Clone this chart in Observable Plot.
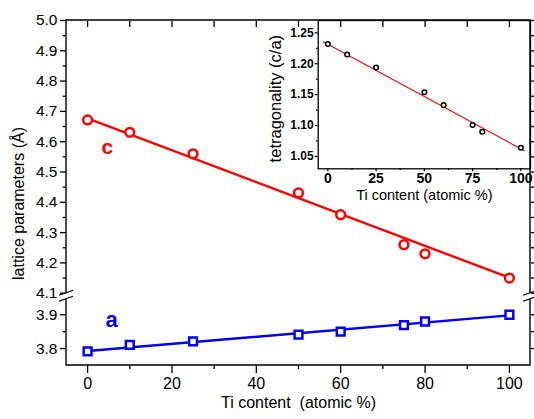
<!DOCTYPE html>
<html><head><meta charset="utf-8">
<script src="https://cdn.jsdelivr.net/npm/d3@7"></script>
<script src="https://cdn.jsdelivr.net/npm/@observablehq/plot@0.6"></script>
<style>
body{margin:0;background:white}
#wrap{position:relative;width:534px;height:419px;overflow:hidden;background:white}
#wrap svg{position:absolute;top:0}
</style></head><body><div id="wrap"></div>
<script>
// ---- data ----
const ti = [0, 10, 25, 50, 60, 75, 80, 100];
const cVals = [4.672, 4.631, 4.560, 4.431, 4.359, 4.260, 4.230, 4.150];
const aVals = [3.792, 3.811, 3.821, 3.841, 3.850, 3.869, 3.880, 3.900];
const ratioVals = [1.232, 1.215, 1.194, 1.154, 1.133, 1.101, 1.090, 1.064];
const fitX = [0, 100];
const cFit = [4.677, 4.151];
const aFit = [3.793, 3.898];
const ratioFitX = [-2.4, 101.8];
const ratioFit = [1.2355, 1.0592];
const yTickLabels = [3.8, 3.9, 4.1, 4.2, 4.3, 4.4, 4.5, 4.6, 4.7, 4.8, 4.9, 5.0];
const yMinorTicks = [3.85, 4.15, 4.25, 4.35, 4.45, 4.55, 4.65, 4.75, 4.85, 4.95];
const xTickLabels = [0, 20, 40, 60, 80, 100];
const xMinorTicks = [10, 30, 50, 70, 90];
const xTopTicks = [0, 10, 20, 30, 40, 50, 60, 70, 80, 90, 100];
const insetYTicks = [1.05, 1.10, 1.15, 1.20, 1.25];
const insetYMinor = [1.075, 1.125, 1.175, 1.225];
const insetXTicks = [0, 25, 50, 75, 100];
const insetXMinor = [12.5, 37.5, 62.5, 87.5];

const cPts = ti.map((t, i) => ({t, v: cVals[i]}));
const aPts = ti.map((t, i) => ({t, v: aVals[i]}));
const rPts = ti.map((t, i) => ({t, v: ratioVals[i]}));
const cLine = fitX.map((t, i) => ({t, v: cFit[i]}));
const aLine = fitX.map((t, i) => ({t, v: aFit[i]}));
const rLine = ratioFitX.map((t, i) => ({t, v: ratioFit[i]}));

const FONT = "Liberation Sans, Arial, sans-serif";
const wrap = document.getElementById("wrap");

// ---- inset ----
const inset = Plot.plot({
  width: 294, height: 215,
  marginLeft: 77.7, marginRight: 4, marginTop: 20, marginBottom: 46.7,
  style: {background: "transparent", fontFamily: FONT, overflow: "visible"},
  x: {domain: [-5, 105]},
  y: {domain: [1.03, 1.27]},
  marks: [
    Plot.frame({fill: "white", stroke: "black", strokeWidth: 1.3}),
    Plot.axisY({ticks: insetYTicks, tickSize: 3, tickPadding: 1.5, tickFormat: d => d.toFixed(2), label: null, fontSize: 12, fontWeight: "bold", strokeWidth: 1.2}),
    Plot.axisY({ticks: insetYMinor, tickSize: 1.8, tickFormat: () => "", label: null, strokeWidth: 1.2}),
    Plot.axisX({ticks: insetXTicks, tickSize: 3, tickPadding: 1, label: null, fontSize: 14, fontWeight: "bold", strokeWidth: 1.2}),
    Plot.axisX({ticks: insetXMinor, tickSize: 1.8, tickFormat: () => "", label: null, strokeWidth: 1.2}),
    Plot.line(rLine, {x: "t", y: "v", stroke: "#ff0000", strokeWidth: 1.1}),
    Plot.dot(rPts, {x: "t", y: "v", r: 2.3, stroke: "black", strokeWidth: 1.5, fill: "white"}),
    Plot.text(["tetragonality (c/a)"], {frameAnchor: "left", textAnchor: "middle", rotate: -90, dx: -42.5, dy: 4, fontSize: 16.5, fill: "black"}),
    Plot.text(["Ti content (atomic %)"], {frameAnchor: "bottom", dy: 31.5, fontSize: 14.5, fill: "black"})
  ]
});
wrap.appendChild(inset);
inset.style.left = "240px";

// ---- main ----
function frameWithBreak(index, scales, values, dims) {
  const {y} = scales;
  const L = dims.marginLeft, R = dims.width - dims.marginRight;
  const T = y(5.0), B = y(3.75);
  const yb1 = y(4.1), yb2 = y(3.95) + 1.5;
  const g = d3.create("svg:g").attr("stroke", "black").attr("stroke-width", 1.4).attr("fill", "none");
  g.append("path").attr("d", `M${L},${yb1}V${T}H${R}V${yb1}M${R},${yb2}V${B}H${L}V${yb2}`);
  for (const X of [L, R]) for (const yc of [yb1, yb2]) {
    g.append("line").attr("x1", X - 7).attr("y1", yc + 2.5).attr("x2", X + 7).attr("y2", yc - 2.5).attr("stroke-width", 1.2);
  }
  return g.node();
}

const main = Plot.plot({
  width: 534, height: 419,
  marginLeft: 66, marginRight: 4, marginTop: 20, marginBottom: 54,
  style: {background: "transparent", fontFamily: FONT},
  x: {domain: [-5, 105]},
  y: {type: "linear", domain: [3.75, 3.95, 4.1, 5.0], range: [365, 297.3, 292.7, 20]},
  marks: [
    Plot.axisY({ticks: yTickLabels, tickSize: 6, tickPadding: 3, tickFormat: d => d.toFixed(1), label: null, fontSize: 15.5, strokeWidth: 1.3}),
    Plot.axisY({ticks: yMinorTicks, tickSize: 3.3, tickFormat: () => "", label: null, strokeWidth: 1.3}),
    Plot.axisY({anchor: "right", ticks: [...yTickLabels, ...yMinorTicks], tickSize: 5, tickFormat: () => "", label: null, strokeWidth: 1.3}),
    Plot.axisX({ticks: xTickLabels, tickSize: 8, tickPadding: 3.7, label: null, fontSize: 16, strokeWidth: 1.3}),
    Plot.axisX({ticks: xMinorTicks, tickSize: 4, tickFormat: () => "", label: null, strokeWidth: 1.3}),
    Plot.axisX({anchor: "top", ticks: xTopTicks, tickSize: -6, tickFormat: () => "", label: null, strokeWidth: 1.3}),
    frameWithBreak,
    Plot.line(cLine, {x: "t", y: "v", stroke: "#ff0000", strokeWidth: 2.4}),
    Plot.dot(cPts, {x: "t", y: "v", r: 4.4, stroke: "#ff0000", strokeWidth: 2.5, fill: "white"}),
    Plot.line(aLine, {x: "t", y: "v", stroke: "#0000ff", strokeWidth: 2.4}),
    Plot.dot(aPts, {x: "t", y: "v", symbol: "square", r: 4.4, stroke: "#0000ff", strokeWidth: 2.5, fill: "white"}),
    Plot.text(["c"], {x: 4.7, y: 4.56, lineAnchor: "bottom", fontSize: 21, fontWeight: "bold", fill: "#ff0000"}),
    Plot.text(["a"], {x: 5.7, y: 3.863, lineAnchor: "bottom", fontSize: 22, fontWeight: "bold", fill: "#0000ff"}),
    Plot.text(["lattice parameters (Å)"], {frameAnchor: "left", textAnchor: "middle", rotate: -90, dx: -48, dy: 10.5, fontSize: 16, fill: "black"}),
    Plot.text(["Ti content\u00a0 (atomic %)"], {frameAnchor: "bottom", dy: 42, fontSize: 16, fill: "black"})
  ]
});
wrap.appendChild(main);
main.style.left = "0px";
</script></body></html>
